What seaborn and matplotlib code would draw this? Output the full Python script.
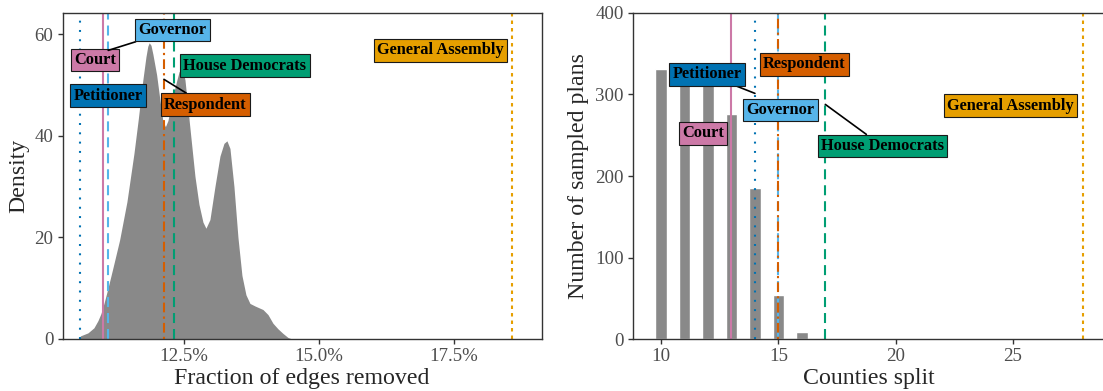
import matplotlib
matplotlib.use("Agg")
import matplotlib.pyplot as plt
from matplotlib.ticker import PercentFormatter
import seaborn as sns

# density of fraction of edges removed
frac_x = [0.10580, 0.10722, 0.10833, 0.10907, 0.10963, 0.11019, 0.11093, 0.11185,
          0.11309, 0.11444, 0.11574, 0.11657, 0.11733, 0.11796, 0.11830, 0.11857,
          0.11890, 0.11926, 0.11994, 0.12056, 0.12111, 0.12157, 0.12204, 0.12278,
          0.12365, 0.12410, 0.12450, 0.12485, 0.12519, 0.12611, 0.12704, 0.12778,
          0.12852, 0.12907, 0.12981, 0.13074, 0.13167, 0.13241, 0.13296, 0.13352,
          0.13426, 0.13500, 0.13574, 0.13648, 0.13722, 0.13815, 0.13963, 0.14056,
          0.14148, 0.14241, 0.14333, 0.14426, 0.14500]
frac_density = [0.6, 1.2, 2.2, 3.6, 5.0, 7.0, 10.0, 14.0,
                19.5, 27.0, 36.5, 43.5, 50.5, 55.5, 57.6, 58.3,
                57.8, 56.0, 52.0, 47.0, 42.8, 41.8, 43.0, 47.0,
                50.8, 52.6, 53.1, 52.6, 51.0, 41.5, 32.0, 26.5,
                23.0, 21.8, 23.5, 30.0, 36.0, 38.5, 39.0, 37.5,
                30.0, 20.0, 12.5, 8.7, 7.0, 6.5, 5.8, 4.8,
                3.1, 2.0, 1.1, 0.3, 0.0]

# counties split histogram
counties = [10, 11, 12, 13, 14, 15, 16]
plan_counts = [331, 325, 320, 276, 185, 54, 9]

# submitted plans
plans = ["Petitioner", "Court", "Governor", "Respondent", "House Democrats", "General Assembly"]
plan_colors = ["#0072B2", "#CC79A7", "#56B4E9", "#D55E00", "#009E73", "#E69F00"]
plan_frac = [0.10574, 0.10994, 0.11098, 0.1213, 0.1232, 0.1858]
plan_counties = [14, 13, 15, 15, 17, 28]

# line styles (points, unscaled)
dotted_wide = (0, (1.4, 5.3))
dotted_tight = (0, (2.5, 2.9))
dashed = (0, (7.2, 4.3))
dotdash = (0, (1.6, 3.0, 7.0, 3.0))
plan_styles = [dotted_wide, "-", dashed, dotdash, dashed, dotted_tight]

# label positions: (x, y) centre of box, and optional leader target
left_labels = {
    "Petitioner": ((0.1110, 47.9), None),
    "Court": ((0.10857, 54.9), None),
    "Governor": ((0.12293, 60.8), (0.11098, 56.8)),
    "Respondent": ((0.12893, 46.1), (0.1213, 51.1)),
    "House Democrats": ((0.1363, 53.8), None),
    "General Assembly": ((0.17256, 56.8), None),
}
right_labels = {
    "Petitioner": ((11.95, 324.5), (14, 301.2)),
    "Court": ((11.78, 252.2), None),
    "Governor": ((15.09, 280.8), None),
    "Respondent": ((16.10, 336.7), None),
    "House Democrats": ((19.43, 236.7), (17, 287.7)),
    "General Assembly": ((24.89, 286.3), None),
}

sns.set_theme(style="white")
plt.rcParams["font.family"] = ["Liberation Serif", "DejaVu Serif"]
plt.rcParams["lines.scale_dashes"] = False

grey = "#898989"
dark = "#333333"

fig = plt.figure(figsize=(11.03, 3.91), dpi=100)
ax1 = fig.add_axes([0.0568, 0.1330, 0.4343, 0.8330])
ax2 = fig.add_axes([0.5736, 0.1322, 0.4280, 0.8353])


def add_labels(ax, labels):
    for name, color in zip(plans, plan_colors):
        (cx, cy), target = labels[name]
        bbox = dict(boxstyle="square,pad=0.2", fc=color, ec="#1a1a1a", lw=0.8)
        if target is None:
            ax.text(cx, cy, name, ha="center", va="center", fontsize=11.8,
                    fontweight="bold", color="black", bbox=bbox, zorder=5)
        else:
            ax.annotate(name, xy=target, xytext=(cx, cy), ha="center", va="center",
                        fontsize=11.8, fontweight="bold", color="black", bbox=bbox,
                        zorder=5,
                        arrowprops=dict(arrowstyle="-", color="black", lw=1.2,
                                        shrinkA=0, shrinkB=0))


def style_axes(ax):
    for sp in ax.spines.values():
        sp.set_visible(True)
        sp.set_color(dark)
        sp.set_linewidth(1.0)
    ax.tick_params(axis="both", which="major", length=3.5, width=1.0, color=dark,
                   labelsize=13.6, labelcolor="#4D4D4D", pad=3, bottom=True, left=True)


# left: density
ax1.fill_between(frac_x, frac_density, 0, color=grey, lw=0, zorder=1)
for x, c, ls in zip(plan_frac, plan_colors, plan_styles):
    ax1.axvline(x, color=c, ls=ls, lw=1.5, zorder=2)
ax1.set_xlim(0.10254, 0.19124)
ax1.set_ylim(0, 64.1)
ax1.set_xticks([0.125, 0.15, 0.175])
ax1.xaxis.set_major_formatter(PercentFormatter(xmax=1, decimals=1))
ax1.set_yticks([0, 20, 40, 60])
ax1.set_xlabel("Fraction of edges removed", fontsize=17.2, labelpad=2)
ax1.set_ylabel("Density", fontsize=17.2, labelpad=4)
style_axes(ax1)
add_labels(ax1, left_labels)

# right: counties split
sns.barplot(x=counties, y=plan_counts, native_scale=True, width=0.5, color=grey,
            saturation=1, errorbar=None, ax=ax2, zorder=1)
for x, c, ls in zip(plan_counties, plan_colors, plan_styles):
    ax2.axvline(x, color=c, ls=ls, lw=1.5, zorder=2)
ax2.set_xlim(8.79, 28.91)
ax2.set_ylim(0, 400)
ax2.set_xticks([10, 15, 20, 25])
ax2.set_yticks([0, 100, 200, 300, 400])
ax2.set_xlabel("Counties split", fontsize=17.2, labelpad=2)
ax2.set_ylabel("Number of sampled plans", fontsize=17.2, labelpad=4)
style_axes(ax2)
add_labels(ax2, right_labels)

fig.savefig("out.png", dpi=100)
